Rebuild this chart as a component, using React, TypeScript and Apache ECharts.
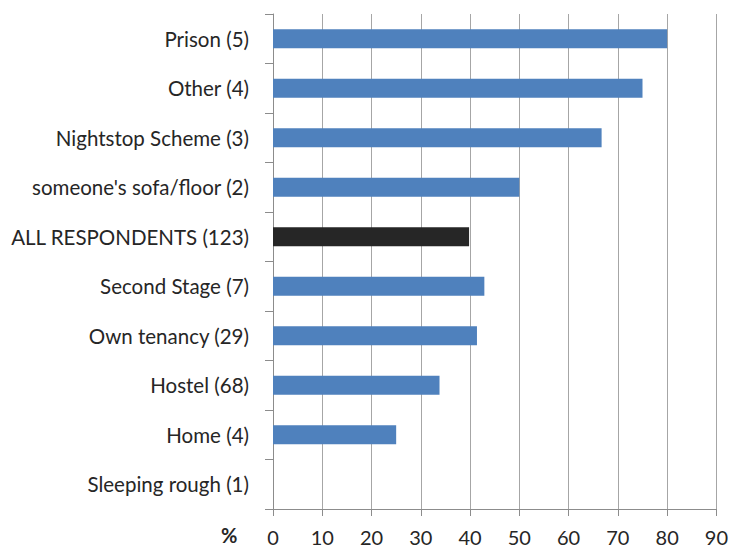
import React, { useEffect, useRef } from "react";
import * as echarts from "echarts";

const categories = [
  "Sleeping rough (1)",
  "Home (4)",
  "Hostel (68)",
  "Own tenancy (29)",
  "Second Stage (7)",
  "ALL RESPONDENTS (123)",
  "someone's sofa/floor (2)",
  "Nightstop Scheme (3)",
  "Other (4)",
  "Prison (5)",
];
const values = [0, 25, 33.8, 41.4, 42.9, 39.8, 50, 66.7, 75, 80];
const highlight = "ALL RESPONDENTS (123)";
const axisMin = 0;
const axisMax = 90;
const axisInterval = 10;

export default function App() {
  const ref = useRef<HTMLDivElement>(null);
  useEffect(() => {
    document.body.style.margin = "0";
    const chart = echarts.init(ref.current!, null, { renderer: "svg" });
    const font = "Lato, 'Open Sans', sans-serif";
    chart.setOption({
      animation: false,
      grid: { left: 273, right: 13, top: 14, bottom: 40, containLabel: false },
      xAxis: {
        type: "value",
        min: axisMin,
        max: axisMax,
        interval: axisInterval,
        axisLine: { show: true, lineStyle: { color: "#8c8c8c", width: 1 } },
        axisTick: { show: true, length: 7, lineStyle: { color: "#8c8c8c" } },
        axisLabel: { color: "#262626", fontSize: 20, fontFamily: font, margin: 18 },
        splitLine: { show: true, lineStyle: { color: "#a6a6a6", width: 1 } },
      },
      yAxis: {
        type: "category",
        data: categories,
        axisLine: { show: true, lineStyle: { color: "#8c8c8c", width: 1 } },
        axisTick: { show: true, length: 8, lineStyle: { color: "#8c8c8c" } },
        axisLabel: { color: "#262626", fontSize: 20.5, fontFamily: font, margin: 24 },
      },
      graphic: [
        {
          type: "text",
          left: 221,
          top: 525,
          style: { text: "%", fontSize: 20, fontWeight: "bold", fill: "#262626", fontFamily: font },
        },
      ],
      series: [
        {
          type: "bar",
          barWidth: 19,
          data: values.map((v, i) => ({
            value: v,
            itemStyle: {
              color: categories[i] === highlight ? "#262626" : "#4F81BD",
            },
          })),
        },
      ],
    });
    return () => chart.dispose();
  }, []);
  return <div ref={ref} style={{ width: 731, height: 549 }} />;
}
